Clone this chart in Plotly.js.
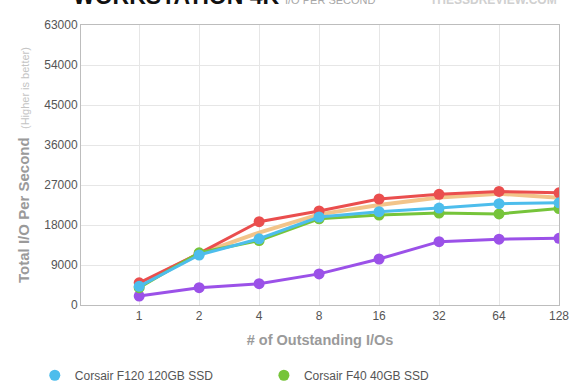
<!DOCTYPE html>
<html>
<head>
<meta charset="utf-8">
<script src="https://cdn.plot.ly/plotly-3.0.1.min.js"></script>
<style>html,body{margin:0;padding:0;background:#fff;}#chart{width:580px;height:390px;}</style>
</head>
<body>
<div id="chart"></div>
<script>
var categories = ['1', '2', '4', '8', '16', '32', '64', '128'];
var purpleName = 'Corsair Nova 64GB SSD';
var redName = 'Corsair Force 120GB SSD';
var orangeName = 'Corsair P128 128GB SSD';
var greenName = 'Corsair F40 40GB SSD';
var blueName = 'Corsair F120 120GB SSD';
var purpleValues = [2000, 3900, 4800, 7000, 10350, 14250, 14800, 15000];
var redValues = [5000, 11600, 18750, 21150, 23850, 24900, 25550, 25250];
var orangeValues = [4600, 11500, 16300, 20400, 22500, 24200, 25050, 24150];
var greenValues = [3900, 11750, 14500, 19400, 20250, 20700, 20500, 21700];
var blueValues = [4200, 11250, 14900, 19800, 21000, 21800, 22800, 23000];
var yTicks = [0, 9000, 18000, 27000, 36000, 45000, 54000, 63000];

function lineTrace(name, vals, color, markers, width) {
  return {
    type: 'scatter', x: categories, y: vals, name: name,
    mode: markers ? 'lines+markers' : 'lines',
    line: {color: color, width: width},
    marker: {color: color, size: 11},
    showlegend: false, hoverinfo: 'x+y'
  };
}
function legendTrace(name, color, legendId) {
  return {type: 'scatter', x: [null], y: [null], name: name, mode: 'markers',
    marker: {color: color, size: 11}, showlegend: true, legend: legendId};
}

var data = [
  lineTrace(purpleName, purpleValues, '#9b51e8', true, 3),
  lineTrace(orangeName, orangeValues, '#f2c48a', false, 4),
  lineTrace(redName, redValues, '#ea4e4e', true, 3),
  lineTrace(greenName, greenValues, '#76c43a', true, 3),
  lineTrace(blueName, blueValues, '#4dbdec', true, 3),
  legendTrace(blueName, '#4dbdec', 'legend'),
  legendTrace(greenName, '#76c43a', 'legend2')
];

var font = 'Liberation Sans, Arial, sans-serif';
function legendBox(xPos) {
  return {
    orientation: 'h', xref: 'container', yref: 'container',
    x: xPos, y: 0.075, xanchor: 'left', yanchor: 'top',
    font: {size: 12, color: '#555'}, itemwidth: 30,
    bgcolor: 'rgba(0,0,0,0)'
  };
}
var layout = {
  width: 580, height: 390,
  margin: {l: 81, r: 21, t: 25, b: 85},
  paper_bgcolor: '#fff', plot_bgcolor: '#fff',
  font: {family: font, color: '#555', size: 12},
  xaxis: {
    type: 'category', range: [-0.97, 7],
    showgrid: true, gridcolor: '#e6e6e6', gridwidth: 1,
    showline: true, mirror: true, linecolor: '#bdbdbd', linewidth: 1,
    ticks: '', tickfont: {size: 12, color: '#555'},
    title: {text: '<b># of Outstanding I/Os</b>', font: {size: 14.5, color: '#9a9a9a'}, standoff: 12},
    zeroline: false, fixedrange: true
  },
  yaxis: {
    range: [0, 63000], tickvals: yTicks, ticktext: yTicks.map(String),
    showgrid: true, gridcolor: '#e6e6e6', gridwidth: 1,
    showline: true, mirror: true, linecolor: '#bdbdbd', linewidth: 1,
    ticks: '', ticklen: 0, tickfont: {size: 12, color: '#555'},
    title: {text: "<b>Total I/O Per Second</b>  <span style='font-size:11px;color:#c4c4c4'>(Higher is better)</span>",
      font: {size: 15, color: '#9a9a9a'}, standoff: 10},
    zeroline: false, fixedrange: true
  },
  showlegend: true,
  legend: legendBox(0.06),
  legend2: legendBox(0.455),
  annotations: [
    {xref: 'paper', yref: 'paper', x: -0.02, y: 1.05, xanchor: 'left', yanchor: 'bottom',
     text: '<b>WORKSTATION 4K</b>', showarrow: false, font: {size: 23, color: '#111', family: font}},
    {xref: 'paper', yref: 'paper', x: 0.423, y: 1.06, xanchor: 'left', yanchor: 'bottom',
     text: 'I/O PER SECOND', showarrow: false, font: {size: 11, color: '#a8a8a8', family: font}},
    {xref: 'paper', yref: 'paper', x: 1.0, y: 1.058, xanchor: 'right', yanchor: 'bottom',
     text: '<b>THESSDREVIEW.COM</b>', showarrow: false, font: {size: 12, color: '#d0d0d0', family: font}}
  ]
};

Plotly.newPlot('chart', data, layout, {displayModeBar: false, staticPlot: true});
</script>
</body>
</html>
